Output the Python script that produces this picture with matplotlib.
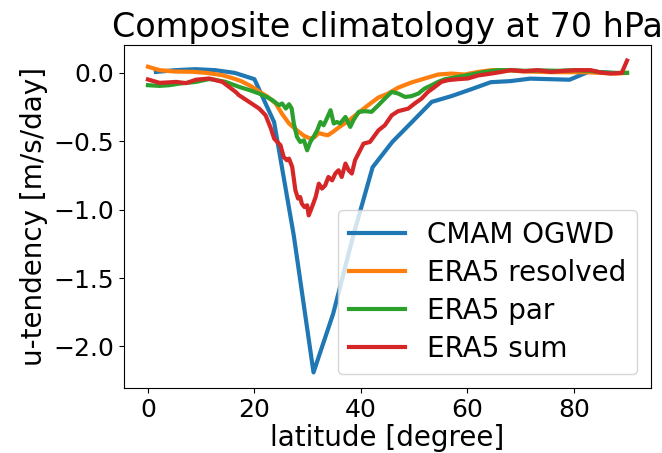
import matplotlib
matplotlib.use('Agg')
import matplotlib.pyplot as plt

# CMAM OGWD (coarse model grid)
lat_cmam = [1.5, 5.2, 8.9, 12.6, 16.3, 20.0, 23.7, 27.4, 31.1, 34.8, 38.5, 42.2,
            45.9, 49.6, 53.3, 57.0, 60.7, 64.4, 68.1, 71.8, 75.5, 79.2, 82.9, 87.5]
u_cmam = [0.007, 0.02, 0.027, 0.02, 0.0, -0.046, -0.36, -1.19, -2.19, -1.76, -1.20, -0.69,
          -0.505, -0.359, -0.212, -0.17, -0.12, -0.068, -0.06, -0.042, -0.046, -0.05, 0.01, 0.0]

# ERA5 resolved
lat_res = [0, 2.2, 5, 8.5, 11, 14, 16, 17.5, 19.5, 21, 22.5, 24, 25.2, 26.5, 28, 29.3,
           30.5, 31.3, 32.1, 33.0, 33.8, 34.8, 35.8, 37.7, 39.6, 41.4, 43.3, 45.1, 47.0,
           49.5, 52.0, 54.5, 57.0, 59.5, 62.0, 64.5, 67.5, 70, 73, 76, 79, 82, 85, 88, 90]
u_res = [0.045, 0.02, 0.01, 0.008, 0.0, -0.017, -0.04, -0.06, -0.1, -0.139, -0.175, -0.224,
         -0.3, -0.37, -0.42, -0.46, -0.48, -0.47, -0.44, -0.45, -0.456, -0.43, -0.40, -0.35,
         -0.29, -0.235, -0.18, -0.151, -0.108, -0.07, -0.041, -0.012, -0.005, -0.012, 0.007,
         0.02, 0.02, 0.012, 0.008, 0.005, 0.005, 0.005, 0.0, -0.005, 0.0]

# ERA5 parameterized
lat_par = [0, 2.2, 4, 6, 9, 11.5, 12.5, 14.6, 17.1, 19, 20.9, 22.5, 23.4, 24.6, 25.2, 25.9,
           26.5, 27.0, 27.4, 28.0, 28.6, 29.3, 29.9, 30.5, 31.1, 31.8, 32.4, 33.0, 33.6,
           34.3, 34.9, 35.5, 36.1, 37.1, 38.0, 38.6, 39.6, 40.8, 42.0, 43.3, 44.5, 45.8,
           47.0, 48.3, 49.5, 50.8, 52.0, 53.3, 54.5, 55.8, 58.2, 60.7, 63.2, 65.7, 68, 71,
           74, 77, 80, 83, 85, 87, 90]
u_par = [-0.09, -0.095, -0.09, -0.078, -0.066, -0.045, -0.05, -0.066, -0.102, -0.125,
         -0.151, -0.18, -0.20, -0.236, -0.224, -0.261, -0.229, -0.261, -0.37, -0.468,
         -0.505, -0.493, -0.566, -0.505, -0.468, -0.42, -0.359, -0.383, -0.334, -0.273,
         -0.37, -0.359, -0.37, -0.322, -0.395, -0.346, -0.285, -0.28, -0.285, -0.236,
         -0.188, -0.139, -0.151, -0.176, -0.17, -0.151, -0.114, -0.09, -0.066, -0.046,
         -0.029, -0.012, 0.007, 0.02, 0.02, 0.015, 0.018, 0.015, 0.02, 0.015, 0.005, 0.0, 0.0]

# ERA5 sum
lat_sum = [0, 2.2, 5.3, 7.2, 9.0, 11.5, 14.0, 16.5, 17.1, 19.0, 20.9, 22.1, 23.1, 23.7,
           24.3, 24.9, 25.5, 26.1, 26.5, 27.1, 27.7, 28.2, 28.6, 28.9, 29.4, 29.9, 30.2,
           30.7, 31.5, 32.1, 32.7, 33.3, 33.9, 34.6, 35.2, 35.8, 36.4, 37.1, 37.7, 38.3,
           38.9, 39.6, 40.5, 41.7, 43.3, 44.5, 45.8, 47.0, 48.9, 50.1, 51.4, 52.6, 53.9,
           55.1, 56.4, 58.2, 60.1, 62.0, 64.5, 66.4, 68.2, 70.7, 73.2, 75.7, 78.2, 80.7,
           83.2, 85.0, 86.9, 89.0, 90]
u_sum = [-0.048, -0.073, -0.066, -0.075, -0.05, -0.041, -0.066, -0.14, -0.163, -0.212,
         -0.261, -0.31, -0.407, -0.48, -0.505, -0.529, -0.615, -0.639, -0.627, -0.688,
         -0.859, -0.919, -0.908, -0.956, -0.981, -0.968, -1.042, -0.993, -0.908, -0.81,
         -0.846, -0.822, -0.761, -0.786, -0.736, -0.712, -0.761, -0.663, -0.712, -0.736,
         -0.639, -0.585, -0.517, -0.505, -0.42, -0.383, -0.31, -0.28, -0.261, -0.224,
         -0.188, -0.139, -0.102, -0.066, -0.053, -0.046, -0.041, -0.019, -0.005, 0.007,
         0.02, 0.012, 0.02, 0.007, 0.015, 0.02, 0.02, 0.003, -0.005, 0.0, 0.09]

plt.rcParams['font.size'] = 20
plt.rcParams['xtick.labelsize'] = 18
plt.rcParams['ytick.labelsize'] = 18

fig = plt.figure(figsize=(6.62, 4.53), dpi=100)
ax = fig.add_axes([0.1873, 0.1435, 0.7961, 0.7572])

ax.plot(lat_cmam, u_cmam, lw=3, label='CMAM OGWD')
ax.plot(lat_res, u_res, lw=3, label='ERA5 resolved')
ax.plot(lat_par, u_par, lw=3, label='ERA5 par')
ax.plot(lat_sum, u_sum, lw=3, label='ERA5 sum')

ax.set_yticks([0.0, -0.5, -1.0, -1.5, -2.0])
ax.set_xlabel('latitude [degree]', labelpad=2)
ax.set_ylabel('u-tendency [m/s/day]')
ax.set_title('Composite climatology at 70 hPa', fontsize=24)
ax.legend(loc='lower right', labelspacing=0.36)

fig.savefig('out.png', dpi=100)
